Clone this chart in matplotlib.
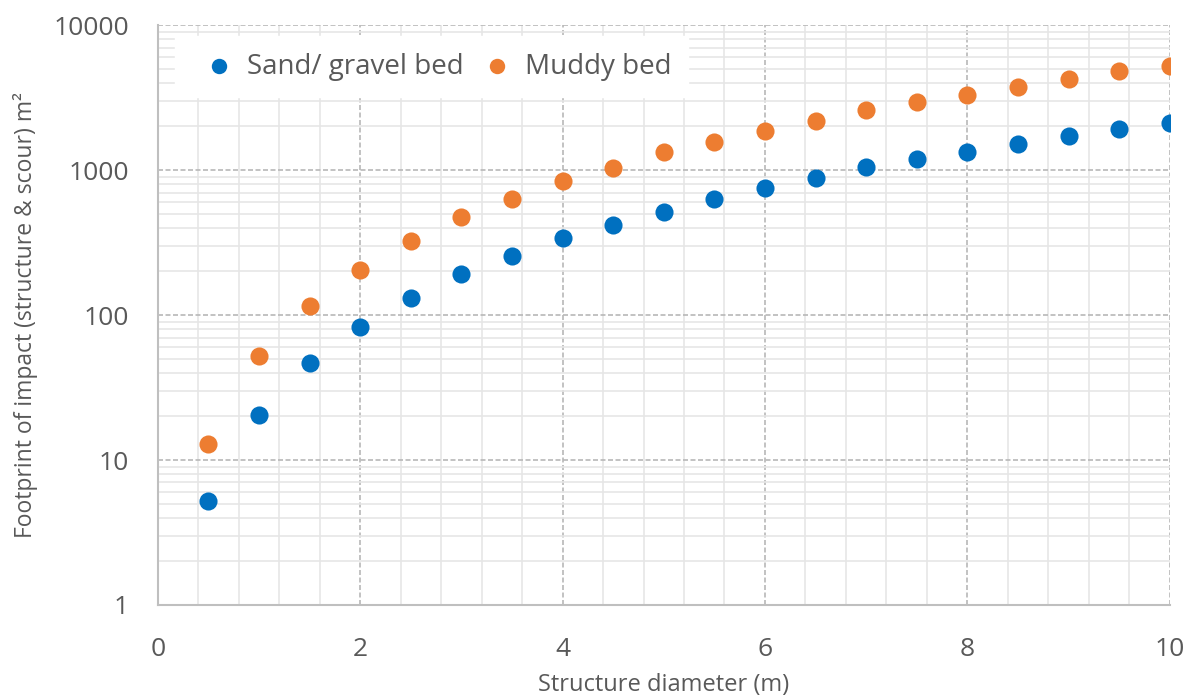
import numpy as np
from matplotlib import pyplot as plt
from matplotlib.ticker import FixedLocator, LogLocator, NullFormatter, FixedFormatter

# data
diameter = [0.5, 1, 1.5, 2, 2.5, 3, 3.5, 4, 4.5, 5,
            5.5, 6, 6.5, 7, 7.5, 8, 8.5, 9, 9.5, 10]
sand_gravel = [5.2, 20.5, 47, 83, 131, 192, 255, 340, 418, 513,
               630, 751, 881, 1049, 1190, 1330, 1510, 1715, 1918, 2110]
muddy = [12.9, 52, 115, 204, 324, 474, 630, 840, 1032, 1331,
         1560, 1857, 2177, 2594, 2944, 3290, 3733, 4242, 4818, 5214]

x_ticks = [0, 2, 4, 6, 8, 10]
y_ticks = [1, 10, 100, 1000, 10000]
y_labels = ['1', '10', '100', '1000', '10000']

plt.rcParams['font.family'] = ['Open Sans', 'DejaVu Sans']

fig = plt.figure(figsize=(11.96, 6.97), dpi=100)
ax = fig.add_axes([0.132, 0.132, 0.846, 0.832])

ax.scatter(diameter, sand_gravel, s=170, color='#0070C0', label='Sand/ gravel bed',
           zorder=3, linewidths=0)
ax.scatter(diameter, muddy, s=170, color='#ED7D31', label='Muddy bed',
           zorder=3, linewidths=0)

ax.set_yscale('log')
ax.set_xlim(0, 10)
ax.set_ylim(1, 10000)

ax.xaxis.set_major_locator(FixedLocator(x_ticks))
ax.xaxis.set_minor_locator(FixedLocator(np.arange(0, 10.01, 0.4)))
ax.yaxis.set_major_locator(FixedLocator(y_ticks))
ax.yaxis.set_major_formatter(FixedFormatter(y_labels))
ax.yaxis.set_minor_locator(LogLocator(base=10, subs=np.arange(2, 10)))
ax.yaxis.set_minor_formatter(NullFormatter())

ax.grid(which='minor', color='#e6e6e6', linewidth=1.2, linestyle='-', zorder=0)
ax.grid(which='major', color='#b8b8b8', linewidth=1.2, linestyle=(0, (3, 1.5)), zorder=1)
ax.set_axisbelow(True)

ax.tick_params(which='both', length=0, labelsize=19, colors='#595959')
ax.tick_params(axis='x', pad=23)
ax.tick_params(axis='y', pad=21)

for side in ['top', 'right']:
    ax.spines[side].set_visible(False)
for side in ['left', 'bottom']:
    ax.spines[side].set_color('#bfbfbf')
    ax.spines[side].set_linewidth(1.5)

ax.set_xlabel('Structure diameter (m)', fontsize=17, color='#595959', labelpad=8)
ax.set_ylabel('Footprint of impact (structure & scour) m²', fontsize=16.5,
              color='#595959')
ax.yaxis.set_label_coords(-0.118, 0.5)

leg = ax.legend(loc='upper left', bbox_to_anchor=(0.003, 1.005), ncol=2,
                fontsize=20, frameon=True, fancybox=False, handletextpad=0.0,
                columnspacing=0.2, borderpad=0.6, markerscale=0.85)
leg.get_frame().set_facecolor('white')
leg.get_frame().set_edgecolor('white')
leg.get_frame().set_alpha(1)
for t in leg.get_texts():
    t.set_color('#595959')

plt.savefig('out.png', dpi=100)
